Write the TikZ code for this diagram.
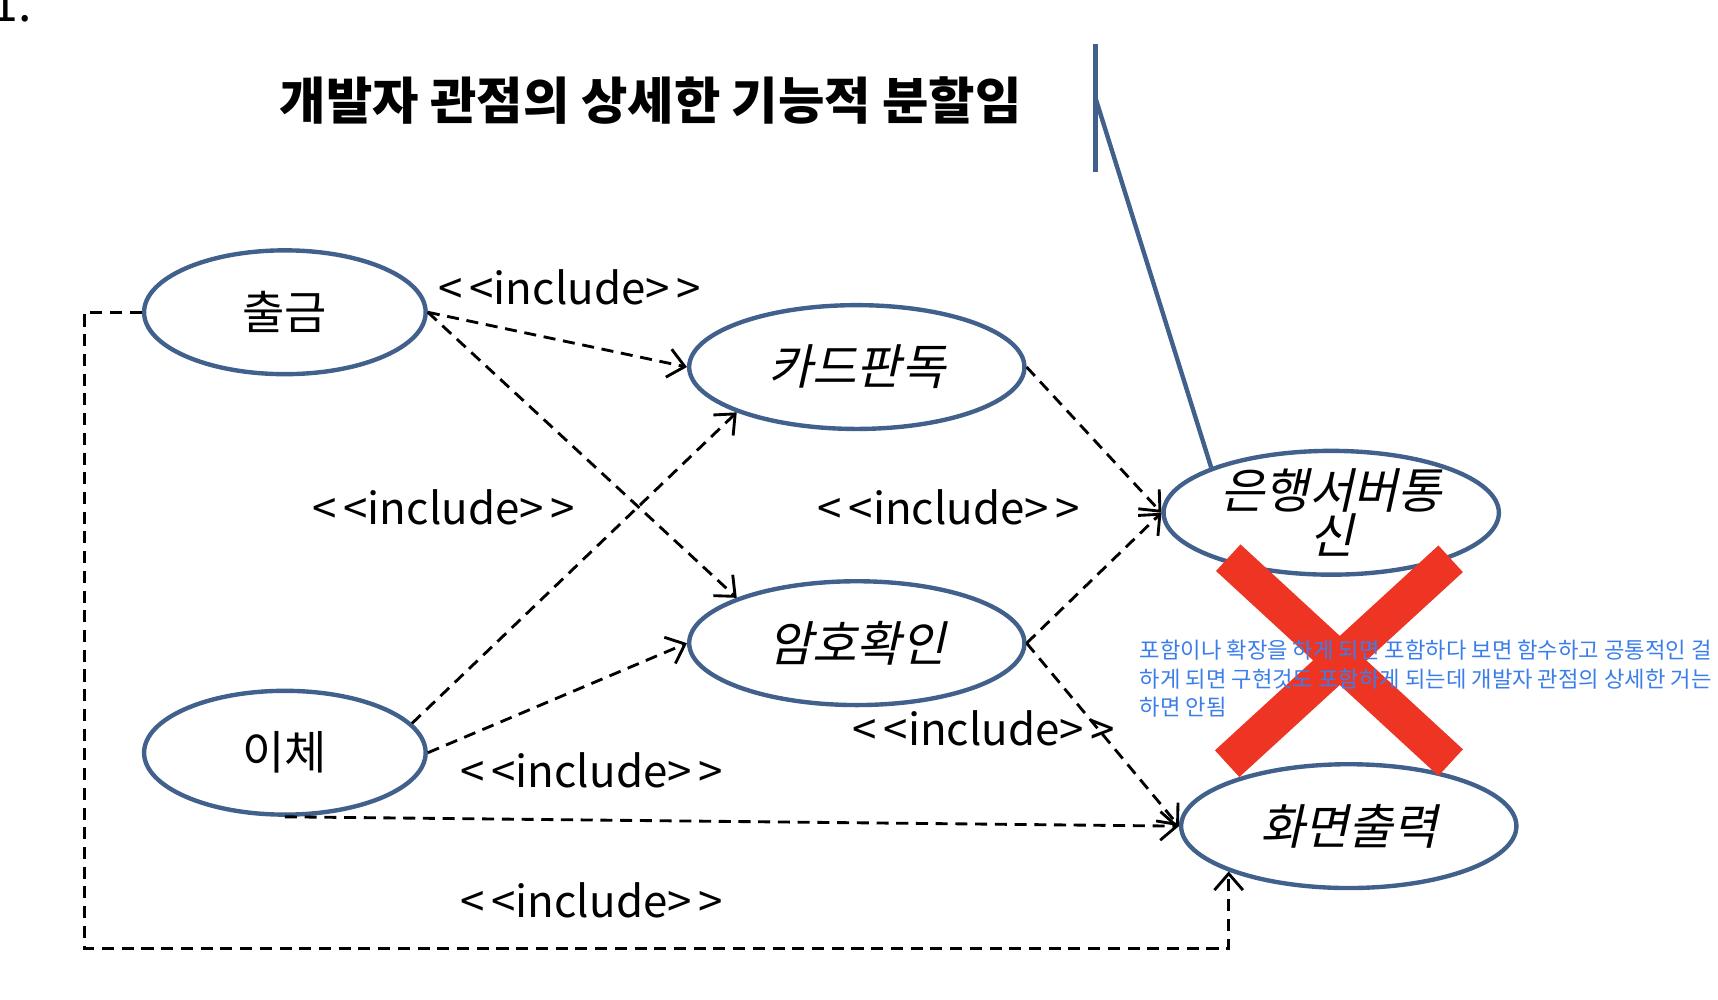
\documentclass[tikz,border=0pt]{standalone}
\usepackage{fontspec}
\newfontfamily\krfont{Noto Sans CJK KR}
\newfontfamily\krslant{Noto Sans CJK KR}[FakeSlant=0.22]
\usetikzlibrary{arrows.meta, positioning, shapes.geometric}
\definecolor{caseblue}{HTML}{41608C}
\definecolor{crossred}{HTML}{EE3524}
\definecolor{noteblue}{HTML}{3B7EEA}
\newcommand{\incl}{<\kern6pt<include>\kern6pt>}

\begin{document}
\begin{tikzpicture}[
  x=1pt, y=-1pt,
  basecase/.style={ellipse, draw=caseblue, line width=4pt, inner sep=0pt,
                   minimum width=257pt, minimum height=113pt,
                   font=\krfont\fontsize{42}{36}\selectfont},
  usecase/.style={basecase, minimum width=306pt,
                  font=\krslant\fontsize{44}{37}\selectfont, align=center},
  incl/.style={draw=black, line width=2.6pt, dash pattern=on 11pt off 7pt,
               -{Straight Barb[length=15pt, width=26pt]}},
  inclabel/.style={font=\krfont\fontsize{40}{40}\selectfont, inner sep=0pt},
  note/.style={draw=caseblue, line width=4pt},
  cross/.style={draw=crossred, line width=33pt},
  remark/.style={font=\krfont\fontsize{20.3}{26}\selectfont, text=noteblue,
                 align=left, inner sep=0pt},
]
  \useasboundingbox (0,0) rectangle (1568,912);

  % Heading
  \node[font=\krfont\fontsize{44}{44}\selectfont, anchor=base west, inner sep=0pt] (num) at (-8,20) {1.};
  \node[font=\krfont\bfseries\fontsize{46}{50}\selectfont] (title) at (594,92) {개발자 관점의 상세한 기능적 분할임};

  % Use cases
  \node[basecase] (withdraw) at (260,285) {출금};
  \node[basecase] (transfer) at (260,687) {이체};
  \node[usecase] (card) at (782,335) {카드판독};
  \node[usecase] (pin) at (782,587) {암호확인};
  \node[usecase] (bank) at (1215,468) {은행서버통\\신};
  \node[usecase] (screen) at (1231,754) {화면출력};

  % Note marker
  \coordinate (bartop) at (1000,40);
  \coordinate (barbot) at (1000,157);
  \coordinate (barpin) at (1000,90);
  \draw[note] (bartop) -- (barbot);
  \draw[note] (barpin) -- (bank.north west);

  % Include relations
  \draw[incl] (withdraw.east) -- (card.west);
  \draw[incl] (withdraw.east) -- (pin.north west);
  \draw[incl] (transfer.13) -- (card.south west);
  \draw[incl] (transfer.east) -- (pin.west);
  \draw[incl] (card.east) -- (bank.west);
  \draw[incl] (pin.east) -- (bank.west);
  \draw[incl] (pin.east) -- (screen.west);
  \draw[incl] (transfer.south) -- (screen.west);
  \draw[incl] (withdraw.west) -- ++(-52,0) |- ([yshift=-70pt]screen.south west) -- (screen.south west);

  % Labels
  \node[inclabel] (lab1) at (520,262) {\incl};
  \node[inclabel] (lab2) at (405,463) {\incl};
  \node[inclabel] (lab3) at (866,463) {\incl};
  \node[inclabel] (lab4) at (898,665) {\incl};
  \node[inclabel] (lab5) at (540,703) {\incl};
  \node[inclabel] (lab6) at (540,822) {\incl};

  % Cross out
  \draw[cross] (1121,509) -- (1324,696);
  \draw[cross] (1324,510) -- (1120,697);

  \node[remark, anchor=north west] (comment) at (1040,584)
    {포함이나 확장을 하게 되면 포함하다 보면 함수하고 공통적인 걸\\
     하게 되면 구현것도 포함하게 되는데 개발자 관점의 상세한 거는\\
     하면 안됨};
\end{tikzpicture}
\end{document}
